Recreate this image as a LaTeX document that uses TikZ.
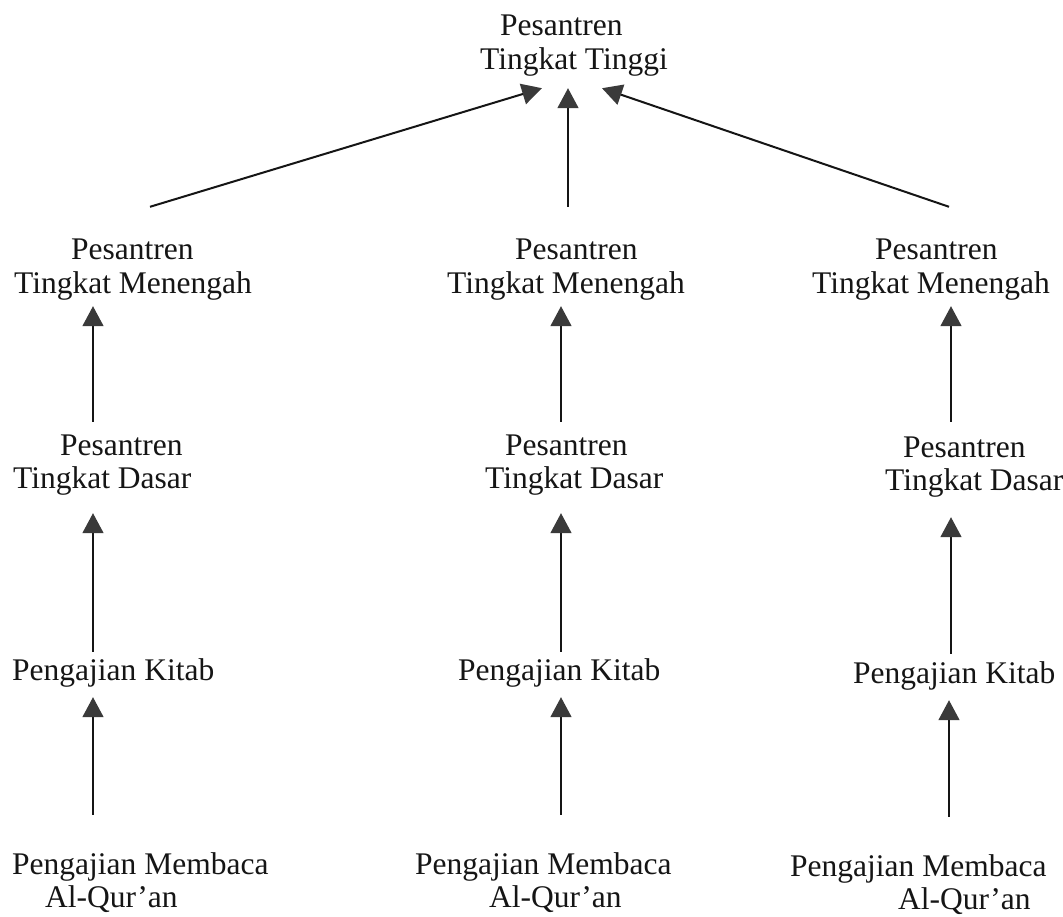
\documentclass[tikz,border=0pt]{standalone}
\usepackage{fontspec}
\setmainfont{Liberation Serif}
\usetikzlibrary{arrows.meta,calc}
\definecolor{ink}{HTML}{151515}
\definecolor{headgray}{HTML}{3A3A3A}
\tikzset{
  lbl/.style={inner sep=0pt, anchor=base west, text height=22pt, text depth=7pt,
              text=ink, font=\fontsize{31.5}{36}\selectfont},
  arr/.style={draw=ink, line width=1.6pt,
              -{Triangle[length=20pt,width=21pt,color=headgray]}},
  darr/.style={arr, line width=2pt}
}
\begin{document}
\begin{tikzpicture}[x=1pt,y=-1pt]
\useasboundingbox (0,0) rectangle (1063,917);
% top
\node[lbl] (t1) at (500,36) {Pesantren};
\node[lbl] (t2) at (480,70) {Tingkat Tinggi};
% level 2 (menengah)
\node[lbl] (mLa) at (71,260) {Pesantren};
\node[lbl] (mLb) at (14,294) {Tingkat Menengah};
\node[lbl] (mCa) at (515,260) {Pesantren};
\node[lbl] (mCb) at (447,294) {Tingkat Menengah};
\node[lbl] (mRa) at (875,260) {Pesantren};
\node[lbl] (mRb) at (812,294) {Tingkat Menengah};
% level 3 (dasar)
\node[lbl] (dLa) at (60,455) {Pesantren};
\node[lbl] (dLb) at (13,488) {Tingkat Dasar};
\node[lbl] (dCa) at (505,455) {Pesantren};
\node[lbl] (dCb) at (485,488) {Tingkat Dasar};
\node[lbl] (dRa) at (903,457) {Pesantren};
\node[lbl] (dRb) at (885,490) {Tingkat Dasar};
% level 4 (kitab)
\node[lbl] (kL) at (12,680) {Pengajian Kitab};
\node[lbl] (kC) at (458,680) {Pengajian Kitab};
\node[lbl] (kR) at (853,683) {Pengajian Kitab};
% level 5 (qur'an)
\node[lbl] (qLa) at (12,874) {Pengajian Membaca};
\node[lbl] (qLb) at (45,907) {Al-Qur’an};
\node[lbl] (qCa) at (415,874) {Pengajian Membaca};
\node[lbl] (qCb) at (489,907) {Al-Qur’an};
\node[lbl] (qRa) at (790,876) {Pengajian Membaca};
\node[lbl] (qRb) at (898,909) {Al-Qur’an};
% column positions of connectors
\coordinate (xL) at (93,0);
\coordinate (xC) at (561,0);
\coordinate (xR) at (951,0);
\coordinate (sL) at (150,0);
\coordinate (hL) at (542,0);
\coordinate (sC) at (568,0);
\coordinate (sR) at (949,0);
\coordinate (hR) at (602,0);
% top arrows
\draw[darr] ($(mLa.north -| sL)+(0,31pt)$) -- ($(t2.south -| hL)+(0,-11pt)$);
\draw[arr]  ($(mCa.north -| sC)+(0,31pt)$) -- ($(t2.south -| sC)+(0,-11pt)$);
\draw[darr] ($(mRa.north -| sR)+(0,31pt)$) -- ($(t2.south -| hR)+(0,-11pt)$);
% dasar -> menengah
\draw[arr] ($(dLa.north -| xL)+(0,11pt)$) -- ($(mLb.south -| xL)+(0,-5pt)$);
\draw[arr] ($(dCa.north -| xC)+(0,11pt)$) -- ($(mCb.south -| xC)+(0,-5pt)$);
\draw[arr] ($(dRa.north -| xR)+(0,13pt)$) -- ($(mRb.south -| xR)+(0,-5pt)$);
% kitab -> dasar
\draw[arr] ($(kL.north -| xL)+(0,6pt)$) -- ($(dLb.south -| xL)+(0,-18pt)$);
\draw[arr] ($(kC.north -| xC)+(0,6pt)$) -- ($(dCb.south -| xC)+(0,-18pt)$);
\draw[arr] ($(kR.north -| xR)+(0,7pt)$) -- ($(dRb.south -| xR)+(0,-20pt)$);
% qur'an -> kitab
\draw[arr] ($(qLa.north -| xL)+(0,37pt)$) -- ($(kL.south -| xL)+(0,-10pt)$);
\draw[arr] ($(qCa.north -| xC)+(0,37pt)$) -- ($(kC.south -| xC)+(0,-10pt)$);
\draw[arr] ($(qRa.north -| sR)+(0,37pt)$) -- ($(kR.south -| sR)+(0,-10pt)$);
\end{tikzpicture}
\end{document}
